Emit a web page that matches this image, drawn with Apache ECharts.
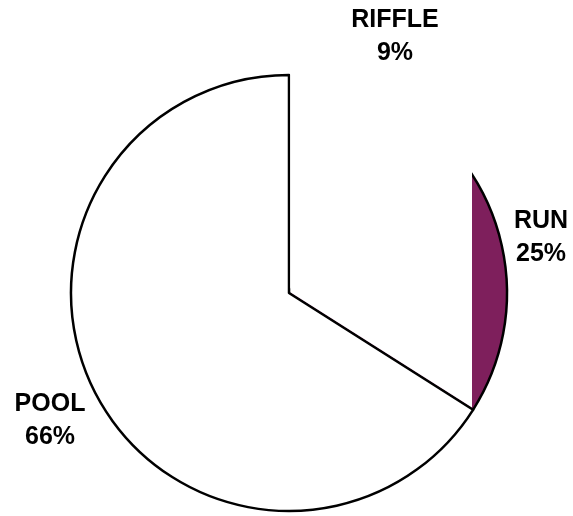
<!DOCTYPE html>
<html>
<head>
<meta charset="utf-8">
<script src="https://cdn.jsdelivr.net/npm/echarts@6/dist/echarts.min.js"></script>
<style>
  html, body { margin: 0; padding: 0; background: #fff; }
  #chart { width: 573px; height: 516px; }
</style>
</head>
<body>
<div id="chart"></div>
<script>
// Habitat type shares (percent of surveyed length)
const habitats = ['RIFFLE', 'RUN', 'POOL'];
const shares = [9, 25, 66];
const fills = ['#ffffff', '#7e1f5c', '#ffffff'];
const borders = [0, 2.5, 2.5];

// Label anchor points (block centres) per habitat
const labelSpots = [[395, 37], [541, 238], [50, 421]];

const CX = 289, CY = 293, R = 218;

const chart = echarts.init(document.getElementById('chart'), null, { renderer: 'canvas' });

// Slope of the POOL/RUN boundary (POOL ends where the other two begin)
const boundaryDeg = 90 - (shares[0] + shares[1]) / 100 * 360;
const slope = -Math.tan(boundaryDeg * Math.PI / 180);
const edgeX = 472;
const lift = 1.3 / Math.cos(boundaryDeg * Math.PI / 180);
const yOnEdge = x => CY + (x - CX) * slope - Math.abs(lift);

chart.setOption({
  animation: false,
  backgroundColor: '#ffffff',
  series: [{
    type: 'pie',
    center: [CX, CY],
    radius: [0, R],
    startAngle: 90,
    clockwise: true,
    avoidLabelOverlap: false,
    silent: true,
    emphasis: { disabled: true },
    labelLine: { show: false },
    label: {
      show: true,
      position: 'outside',
      fontFamily: '"Liberation Sans", Arial, sans-serif',
      fontWeight: 'bold',
      fontSize: 25,
      lineHeight: 33,
      color: '#000',
      align: 'center',
      formatter: p => p.name + '\n' + Math.round(p.percent) + '%'
    },
    labelLayout: p => ({
      x: labelSpots[p.dataIndex][0],
      y: labelSpots[p.dataIndex][1],
      align: 'center',
      verticalAlign: 'middle'
    }),
    data: habitats.map((name, i) => ({
      name: name,
      value: shares[i],
      itemStyle: {
        color: fills[i],
        borderColor: '#000',
        borderWidth: borders[i]
      }
    }))
  }],
  graphic: [{
    type: 'polygon',
    z: 100,
    silent: true,
    shape: {
      points: [
        [CX + 1.3, 72],
        [edgeX, 72],
        [edgeX, yOnEdge(edgeX)],
        [CX + 1.3, yOnEdge(CX + 1.3)]
      ]
    },
    style: { fill: '#ffffff' }
  }]
});
</script>
</body>
</html>
